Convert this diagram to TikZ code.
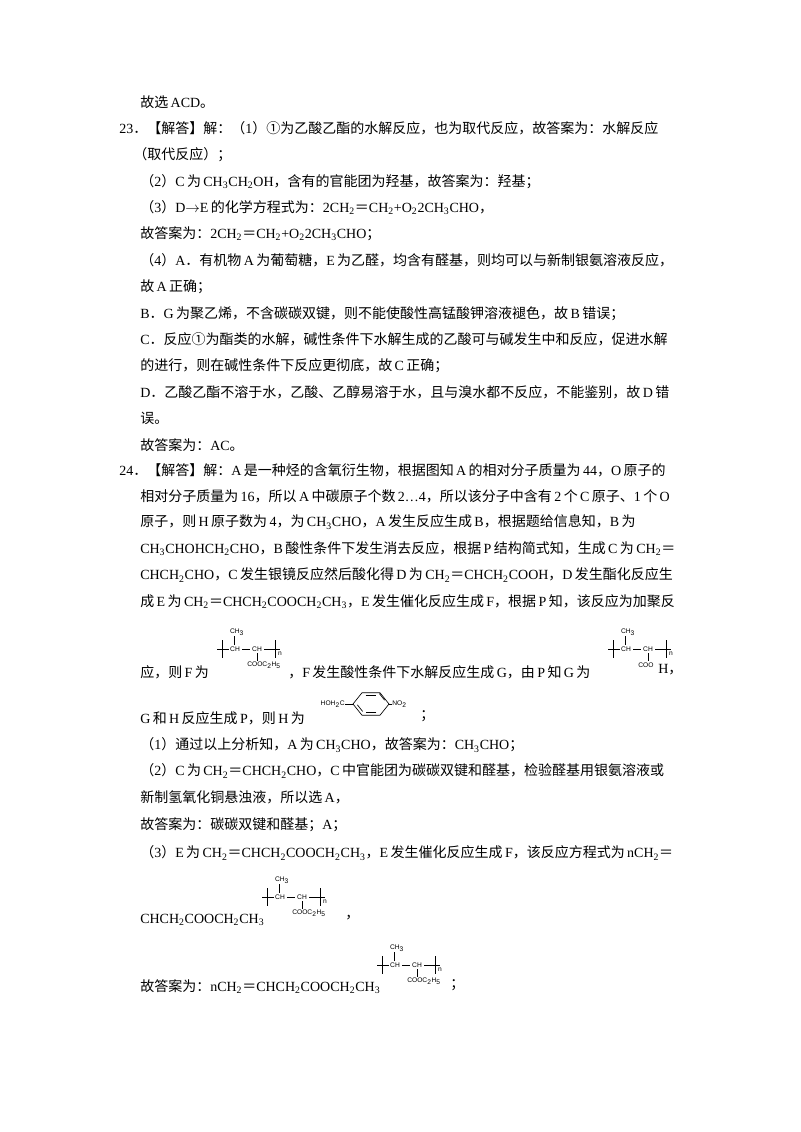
\documentclass[tikz,border=0pt]{standalone}
\usepackage{fontspec}
\usetikzlibrary{calc}
\setmainfont{Liberation Serif}
\newfontfamily\cjk{Noto Sans CJK SC}
\newfontfamily\latinf{Liberation Serif}
\newfontfamily\sansf{Liberation Sans}
\makeatletter
\XeTeXinterchartokenstate=1
\newXeTeXintercharclass\CJKcls
\newXeTeXintercharclass\PUNcls
\count@="3000 \loop\ifnum\count@<"3040 \XeTeXcharclass\count@=\PUNcls \advance\count@ 1 \repeat
\count@="4E00 \loop\ifnum\count@<"A000 \XeTeXcharclass\count@=\CJKcls \advance\count@ 1 \repeat
\count@="FF00 \loop\ifnum\count@<"FFF0 \XeTeXcharclass\count@=\PUNcls \advance\count@ 1 \repeat
\count@="2460 \loop\ifnum\count@<"2500 \XeTeXcharclass\count@=\PUNcls \advance\count@ 1 \repeat
\XeTeXinterchartoks 0 \CJKcls = {\hskip1.8pt\cjk}
\XeTeXinterchartoks 4095 \CJKcls = {\cjk}
\XeTeXinterchartoks \CJKcls 0 = {\hskip1.8pt\latinf}
\XeTeXinterchartoks \CJKcls 4095 = {\latinf}
\XeTeXinterchartoks 0 \PUNcls = {\cjk}
\XeTeXinterchartoks 4095 \PUNcls = {\cjk}
\XeTeXinterchartoks \PUNcls 0 = {\latinf}
\XeTeXinterchartoks \PUNcls 4095 = {\latinf}
\makeatother
\newcommand\s[1]{\textsubscript{#1}}
\tikzset{
 tl/.style={anchor=west,inner sep=0pt,font=\fontsize{10.5}{12}\selectfont},
 st/.style={inner sep=0pt,font=\sansf\fontsize{5}{6}\selectfont},
 bd/.style={line width=0.5pt}
}
\newcommand\polym[3]{\begin{scope}[shift={(#1,#2)}]
\draw[bd] (-5,0)--(7,0); \draw[bd] (0,-9)--(0,9);
\node[st] at (13,0) {CH}; \draw[bd] (12,-4)--(12,-13); \node[st] at (15,-17) {CH\s{3}};
\draw[bd] (20,0)--(28,0); \node[st] at (35,0) {CH}; \draw[bd] (35,4)--(35,12);
\node[st,anchor=west] at (25,16) {#3};
\draw[bd] (42,0)--(58,0); \draw[bd] (53,-9)--(53,9); \node[st] at (58,5) {n};
\end{scope}}
\begin{document}
\begin{tikzpicture}[x=0.75pt,y=-0.75pt]
\fill[white] (0,0) rectangle (800,1132);
\useasboundingbox (0,0) rectangle (800,1132);
\node[tl] (l1) at (140,102) {故选ACD。};
\node[tl] (l2) at (119,128.4) {23．【解答】解：（1）①为乙酸乙酯的水解反应，也为取代反应，故答案为：水解反应};
\node[tl] (l3) at (133,154.8) {（取代反应）；};
\node[tl] (l4) at (140,181.2) {（2）C为CH\s{3}CH\s{2}OH，含有的官能团为羟基，故答案为：羟基；};
\node[tl] (l5) at (140,207.6) {（3）D$\rightarrow$E的化学方程式为：2CH\s{2}＝CH\s{2}+O\s{2}2CH\s{3}CHO，};
\node[tl] (l6) at (140,234) {故答案为：2CH\s{2}＝CH\s{2}+O\s{2}2CH\s{3}CHO；};
\node[tl] (l7) at (140,260.4) {（4）A．有机物A为葡萄糖，E为乙醛，均含有醛基，则均可以与新制银氨溶液反应，};
\node[tl] (l8) at (140,286.8) {故A正确；};
\node[tl] (l9) at (140,313.2) {B．G为聚乙烯，不含碳碳双键，则不能使酸性高锰酸钾溶液褪色，故B错误；};
\node[tl] (l10) at (140,339.6) {C．反应①为酯类的水解，碱性条件下水解生成的乙酸可与碱发生中和反应，促进水解};
\node[tl] (l11) at (140,366) {的进行，则在碱性条件下反应更彻底，故C正确；};
\node[tl] (l12) at (140,392.4) {D．乙酸乙酯不溶于水，乙酸、乙醇易溶于水，且与溴水都不反应，不能鉴别，故D错};
\node[tl] (l13) at (140,418.8) {误。};
\node[tl] (l14) at (140,445.2) {故答案为：AC。};
\node[tl] (l15) at (119,470) {24．【解答】解：A是一种烃的含氧衍生物，根据图知A的相对分子质量为44，O原子的};
\node[tl] (l16) at (140,496) {相对分子质量为16，所以A中碳原子个数2…4，所以该分子中含有2个C原子、1个O};
\node[tl] (l17) at (140,522) {原子，则H原子数为4，为CH\s{3}CHO，A发生反应生成B，根据题给信息知，B为};
\node[tl] (l18) at (140,549) {CH\s{3}CHOHCH\s{2}CHO，B酸性条件下发生消去反应，根据P结构简式知，生成C为CH\s{2}＝};
\node[tl] (l19) at (140,575) {CHCH\s{2}CHO，C发生银镜反应然后酸化得D为CH\s{2}＝CHCH\s{2}COOH，D发生酯化反应生};
\node[tl] (l20) at (140,602) {成E为CH\s{2}＝CHCH\s{2}COOCH\s{2}CH\s{3}，E发生催化反应生成F，根据P知，该反应为加聚反};
\node[tl] (l21a) at (140,672) {应，则F为};
\polym{222}{649}{COOC\s{2}H\s{5}}
\node[tl] (l21b) at (288,672) {，F发生酸性条件下水解反应生成G，由P知G为};
\polym{613}{649}{COO}
\node[tl] (l21c) at (658,670) {H，};
\node[tl] (l22a) at (140,718) {G和H反应生成P，则H为};
\node[st,anchor=east] (hoh) at (345,704) {HOH\s{2}C};
\foreach \i/\a in {1/0,2/60,3/120,4/180,5/240,6/300}
  \coordinate (r\i) at ($(371,704)+(\a:18 and 13)$);
\draw[bd] (r1)--(r2)--(r3)--(r4)--(r5)--(r6)--cycle;
\draw[bd] ($(r2)!0.2!(r3)+(0,-3)$) -- ($(r2)!0.8!(r3)+(0,-3)$);
\draw[bd] ($(r5)!0.2!(r6)+(0,3)$) -- ($(r5)!0.8!(r6)+(0,3)$);
\draw[bd] ($(r6)!0.2!(r1)+(-2.5,-1.5)$) -- ($(r6)!0.8!(r1)+(-2.5,-1.5)$);
\draw[bd] ($(r3)!0.2!(r4)+(2.5,-1.5)$) -- ($(r3)!0.8!(r4)+(2.5,-1.5)$);
\node[st,anchor=west] (no2) at (392,704) {NO\s{2}};
\draw[bd] (hoh.east |- r4) -- (r4);
\draw[bd] (r1) -- (no2.west);
\node[tl] (l22b) at (420,716) {；};
\node[tl] (l23) at (140,745) {（1）通过以上分析知，A为CH\s{3}CHO，故答案为：CH\s{3}CHO；};
\node[tl] (l24) at (140,771) {（2）C为CH\s{2}＝CHCH\s{2}CHO，C中官能团为碳碳双键和醛基，检验醛基用银氨溶液或};
\node[tl] (l25) at (140,797) {新制氢氧化铜悬浊液，所以选A，};
\node[tl] (l26) at (140,825) {故答案为：碳碳双键和醛基；A；};
\node[tl] (l27) at (140,853) {（3）E为CH\s{2}＝CHCH\s{2}COOCH\s{2}CH\s{3}，E发生催化反应生成F，该反应方程式为nCH\s{2}＝};
\node[tl] (l28) at (140,920) {CHCH\s{2}COOCH\s{2}CH\s{3}};
\polym{267}{897}{COOC\s{2}H\s{5}}
\node[tl] (l28b) at (345,918) {，};
\node[tl] (l29) at (140,987) {故答案为：nCH\s{2}＝CHCH\s{2}COOCH\s{2}CH\s{3}};
\polym{382}{965}{COOC\s{2}H\s{5}}
\node[tl] (l29b) at (450,985) {；};
\end{tikzpicture}
\end{document}
